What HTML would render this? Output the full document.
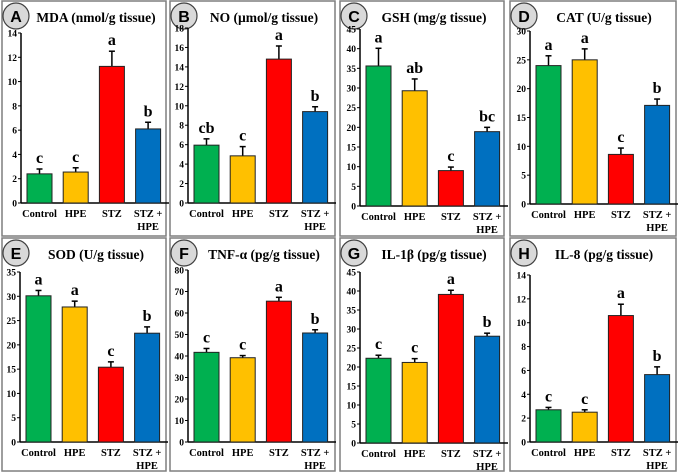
<!DOCTYPE html>
<html><head><meta charset="utf-8"><style>
html,body{margin:0;padding:0;background:#fff;}
svg{display:block;font-family:"Liberation Serif",serif;font-weight:bold;}
</style></head><body>
<svg id="fig" width="678" height="474" viewBox="0 0 678 474" xmlns="http://www.w3.org/2000/svg"></svg>
<script>
const categories = ["Control","HPE","STZ","STZ +|HPE"];
const barColors = ["#00b050","#ffc000","#ff0000","#0070c0"];
const mdaValues = [2.4,2.55,11.25,6.1];
const mdaErrors = [0.4,0.35,1.25,0.55];
const mdaLetters = ["c","c","a","b"];
const noValues = [5.95,4.85,14.8,9.4];
const noErrors = [0.65,0.95,1.35,0.5];
const noLetters = ["cb","c","a","b"];
const gshValues = [35.6,29.3,9.0,18.9];
const gshErrors = [4.5,3.0,0.9,1.1];
const gshLetters = ["a","ab","c","bc"];
const catValues = [24.0,25.0,8.6,17.1];
const catErrors = [1.7,1.9,1.1,1.1];
const catLetters = ["a","a","c","b"];
const sodValues = [30.1,27.8,15.4,22.4];
const sodErrors = [1.1,1.2,1.1,1.3];
const sodLetters = ["a","a","c","b"];
const tnfValues = [41.7,39.2,65.5,50.7];
const tnfErrors = [1.8,1.0,1.8,1.5];
const tnfLetters = ["c","c","a","b"];
const il1Values = [22.3,21.2,39.1,28.1];
const il1Errors = [0.8,1.0,1.1,0.8];
const il1Letters = ["c","c","a","b"];
const il8Values = [2.7,2.5,10.6,5.65];
const il8Errors = [0.2,0.2,0.95,0.65];
const il8Letters = ["c","c","a","b"];

const panels = [
 {id:"A",title:"MDA (nmol/g tissue)",v:mdaValues,e:mdaErrors,l:mdaLetters,max:14,step:2,box:[2,1,164,235],ax:21,top:33,y0:203},
 {id:"B",title:"NO (µmol/g tissue)",v:noValues,e:noErrors,l:noLetters,max:18,step:2,box:[170,1,165,235],ax:188,top:28,y0:203},
 {id:"C",title:"GSH (mg/g tissue)",v:gshValues,e:gshErrors,l:gshLetters,max:45,step:5,box:[340,1,164,235],ax:360,top:29,y0:206},
 {id:"D",title:"CAT (U/g tissue)",v:catValues,e:catErrors,l:catLetters,max:30,step:5,box:[510,1,166,235],ax:530,top:31,y0:204},
 {id:"E",title:"SOD (U/g tissue)",v:sodValues,e:sodErrors,l:sodLetters,max:35,step:5,box:[2,238,164,233],ax:20,top:272,y0:442},
 {id:"F",title:"TNF-α (pg/g tissue)",v:tnfValues,e:tnfErrors,l:tnfLetters,max:80,step:10,box:[170,238,165,233],ax:188,top:270,y0:442},
 {id:"G",title:"IL-1β (pg/g tissue)",v:il1Values,e:il1Errors,l:il1Letters,max:45,step:5,box:[340,238,164,233],ax:360,top:272,y0:443},
 {id:"H",title:"IL-8 (pg/g tissue)",v:il8Values,e:il8Errors,l:il8Letters,max:14,step:2,box:[510,238,166,233],ax:530,top:275,y0:442}
];
const NS="http://www.w3.org/2000/svg";
const svg=document.getElementById("fig");
function mk(tag,attrs,parent,text){const el=document.createElementNS(NS,tag);for(const k in attrs)el.setAttribute(k,attrs[k]);if(text!==undefined)el.textContent=text;parent.appendChild(el);return el;}
panels.forEach(p=>{
  const g=mk("g",{},svg);
  
  
  const [bx,by,bw,bh]=p.box;
  const frame=mk("rect",{x:bx,y:by,width:bw,height:bh,fill:"none",stroke:"#7f7f7f","stroke-width":1.5},g);
  
  
  const circ=mk("circle",{cx:bx+14,cy:by+15,r:13,fill:"#d9d9d9",stroke:"#404040","stroke-width":1.2},g);
  
  
  const bl=mk("text",{x:bx+14,y:by+21,"text-anchor":"middle","font-family":"Liberation Sans, sans-serif","font-size":16,fill:"#000"},g,p.id);
  
  
  const t=mk("text",{x:bx+94,y:by+21,"text-anchor":"middle","font-size":13.5},g,p.title);
  
  
  const ys=v=>p.y0-(v/p.max)*(p.y0-p.top);
  const xs=i=>p.ax+6+i*36.2;
  const bw2=25;
  const ya=mk("line",{x1:p.ax,y1:p.top,x2:p.ax,y2:p.y0,stroke:"#000","stroke-width":1.5},g);
  
  
  const xa=mk("line",{x1:p.ax,y1:p.y0,x2:p.ax+148,y2:p.y0,stroke:"#000","stroke-width":1.5},g);
  
  
  for(let v=0;v<=p.max+1e-9;v+=p.step){
    const y=ys(v);
    mk("line",{x1:p.ax-3,y1:y,x2:p.ax,y2:y,stroke:"#000","stroke-width":1},g);
    const tl=mk("text",{x:p.ax-4,y:y+3.5,"text-anchor":"end","font-size":9.5},g,String(v));
    
    
  }
  p.v.forEach((v,i)=>{
    const x=xs(i),y=ys(v),yt=ys(v+p.e[i]);
    const cx=x+bw2/2;
    mk("line",{x1:cx,y1:y,x2:cx,y2:yt,stroke:"#000","stroke-width":1.5},g);
    mk("line",{x1:cx-3,y1:yt,x2:cx+3,y2:yt,stroke:"#000","stroke-width":1.5},g);
    const r=mk("rect",{x:x,y:y,width:bw2,height:p.y0-y,fill:barColors[i],stroke:"#222","stroke-width":1},g);
    
    
    const lt=mk("text",{x:cx,y:yt-6,"text-anchor":"middle","font-size":16},g,p.l[i]);
    
    
    const parts=categories[i].split("|");
    parts.forEach((s,j)=>{
      const c=mk("text",{x:cx,y:p.y0+14+j*13,"text-anchor":"middle","font-size":10.5},g,s);
      
      
    });
  });
});
</script>
</body></html>
